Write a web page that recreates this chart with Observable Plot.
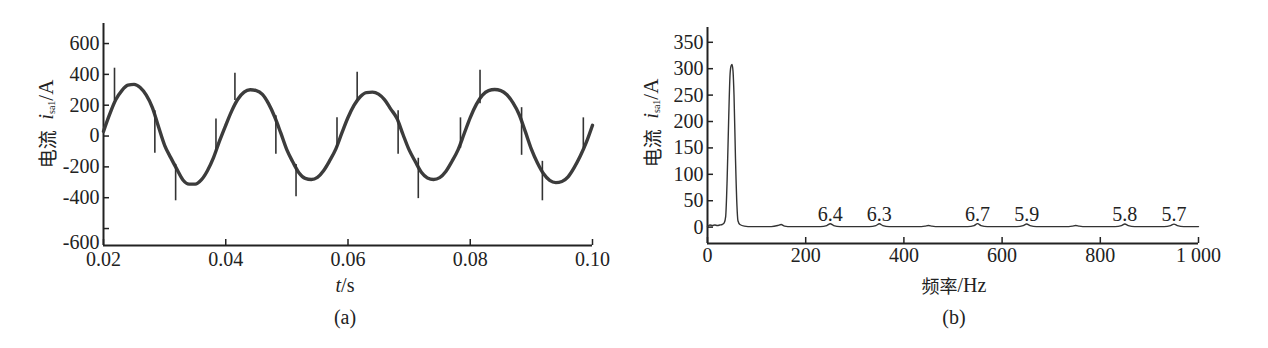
<!DOCTYPE html>
<html><head><meta charset="utf-8">
<script src="https://cdn.jsdelivr.net/npm/d3@7"></script>
<script src="https://cdn.jsdelivr.net/npm/@observablehq/plot@0.6"></script>
<style>
html,body{margin:0;padding:0;background:#fff;}
#fig{position:relative;width:1268px;height:348px;overflow:hidden;background:#fff;}
#fig svg{position:absolute;top:0;}
</style></head><body><div id="fig"></div>
<script>
// ---- (a) time-domain current ----
const timeS = [0.020,0.021,0.022,0.023,0.024,0.025,0.026,0.027,0.028,0.029,
  0.030,0.031,0.032,0.033,0.034,0.035,0.036,0.037,0.038,0.039,
  0.040,0.041,0.042,0.043,0.044,0.045,0.046,0.047,0.048,0.049,
  0.050,0.051,0.052,0.053,0.054,0.055,0.056,0.057,0.058,0.059,
  0.060,0.061,0.062,0.063,0.064,0.065,0.066,0.067,0.068,0.069,
  0.070,0.071,0.072,0.073,0.074,0.075,0.076,0.077,0.078,0.079,
  0.080,0.081,0.082,0.083,0.084,0.085,0.086,0.087,0.088,0.089,
  0.090,0.091,0.092,0.093,0.094,0.095,0.096,0.097,0.098,0.099,0.100];
const currentA = [30,140,235,295,330,335,315,265,185,60,
  -60,-140,-215,-285,-312,-312,-285,-225,-140,-30,
  70,165,240,285,300,295,270,210,125,20,
  -90,-170,-240,-275,-282,-268,-225,-160,-85,20,
  120,200,255,282,285,272,235,175,115,10,
  -90,-165,-235,-272,-282,-270,-230,-165,-90,15,
  120,205,265,295,302,295,268,215,140,30,
  -85,-175,-245,-288,-302,-295,-265,-205,-130,-40,70];
const spikeT    = [0.0218,0.0284,0.0318,0.0384,0.0415,0.0482,0.0515,0.0582,0.0615,0.0682,0.0715,0.0784,0.0816,0.0884,0.0918,0.0985];
const spikeFrom = [230,164,-184,-111,230,131,-184,-79,230,164,-144,-79,210,184,-164,-79];
const spikeTo   = [440,-111,-420,111,407,-118,-393,118,413,-118,-406,118,426,-125,-420,118];
const tTicks = [0.02,0.04,0.06,0.08,0.10];
const tTickLabels = ["0.02","0.04","0.06","0.08","0.10"];
const iTicks = [-600,-400,-200,0,200,400,600];
const iTickLabels = ["-600","-400","-200","0","200","400","600"];
const tDomain = [0.02,0.10];
const iDomain = [-710,730];

// ---- (b) spectrum ----
const freqHz = [0,5,10,15,20,25,30,34,37,40,43,46,48,50,52,54,57,60,62,66,75,90,110,130,
  143,150,157,170,200,230,243,250,257,270,300,330,343,350,357,370,400,430,443,450,457,470,
  500,530,543,550,557,570,600,630,643,650,657,670,700,730,743,750,757,770,800,830,843,850,857,870,
  900,930,943,950,957,970,1000];
const ampA = [1,4,3,4,3,4,5,8,20,90,200,290,305,308,295,250,130,40,12,5,2,1,1,1,
  3,5,2,1,1,1,3,6.4,3,1,1,1,3,6.3,3,1,1,1,2,3,2,1,
  1,1,3,6.7,3,1,1,1,3,5.9,3,1,1,1,2,3,2,1,1,1,3,5.8,3,1,
  1,1,3,5.7,3,1,1];
const harmHz = [250,350,550,650,850,950];
const harmA = [6.4,6.3,6.7,5.9,5.8,5.7];
const harmLabel = ["6.4","6.3","6.7","5.9","5.8","5.7"];
const fTicks = [0,200,400,600,800,1000];
const fTickLabels = ["0","200","400","600","800","1 000"];
const aTicks = [0,50,100,150,200,250,300,350];
const aTickLabels = ["0","50","100","150","200","250","300","350"];
const fDomain = [0,1000];
const aDomain = [-31,378];

const SERIF = "'Liberation Serif','Times New Roman',serif";
const CJK = "'Noto Sans CJK SC',sans-serif";
const INK = "#222";

const wave = timeS.map((t,i)=>({t, v: currentA[i]}));
const spikes = spikeT.map((t,i)=>({t, a: spikeFrom[i], b: spikeTo[i]}));
const spec = freqHz.map((f,i)=>({f, a: ampA[i]}));
const harm = harmHz.map((f,i)=>({f, a: harmA[i], s: harmLabel[i]}));

const lookup = (ticks, labels) => d => labels[ticks.indexOf(d)] ?? "";

const left = Plot.plot({
  width: 620, height: 348,
  marginLeft: 103, marginRight: 28, marginTop: 23, marginBottom: 103,
  x: {domain: tDomain},
  y: {domain: iDomain},
  style: {fontFamily: SERIF, fontSize: "20px", color: INK, background: "transparent", overflow: "visible"},
  marks: [
    Plot.axisX(tTicks, {tickSize: -6, tickPadding: 12, strokeWidth: 1.5, tickFormat: lookup(tTicks, tTickLabels), label: null}),
    Plot.axisY(iTicks, {tickSize: -6, tickPadding: 10, strokeWidth: 1.5, tickFormat: d => d === iTicks[0] ? "" : lookup(iTicks, iTickLabels)(d), label: null}),
    Plot.text([iDomain[0]], {y: d => d, text: () => iTickLabels[0], frameAnchor: "left", textAnchor: "end", dx: -4, dy: -3, fill: INK}),
    Plot.ruleX([tDomain[0]], {stroke: INK, strokeWidth: 2}),
    Plot.ruleY([iDomain[0]], {stroke: INK, strokeWidth: 2}),
    Plot.line(wave, {x: "t", y: "v", stroke: "#3c3c3c", strokeWidth: 3.4, curve: "monotone-x"}),
    Plot.ruleX(spikes, {x: "t", y1: "a", y2: "b", stroke: "#333", strokeWidth: 1.6})
  ]
});

const right = Plot.plot({
  width: 648, height: 348,
  marginLeft: 87, marginRight: 70, marginTop: 27, marginBottom: 105,
  x: {domain: fDomain},
  y: {domain: aDomain},
  style: {fontFamily: SERIF, fontSize: "20px", color: INK, background: "transparent", overflow: "visible"},
  marks: [
    Plot.axisX(fTicks, {tickSize: -6, tickPadding: 10, strokeWidth: 1.5, tickFormat: lookup(fTicks, fTickLabels), label: null}),
    Plot.axisY(aTicks, {tickSize: -6, tickPadding: 10, strokeWidth: 1.5, tickFormat: lookup(aTicks, aTickLabels), label: null}),
    Plot.ruleX([fDomain[0]], {stroke: INK, strokeWidth: 2}),
    Plot.ruleY([aDomain[0]], {stroke: INK, strokeWidth: 2}),
    Plot.line(spec, {x: "f", y: "a", stroke: "#333", strokeWidth: 1.4, curve: "monotone-x"}),
    Plot.text(harm, {x: "f", y: "a", text: "s", lineAnchor: "bottom", dy: -3, fill: INK})
  ]
});

const fig = document.getElementById("fig");
left.style.left = "0px";
right.style.left = "620px";
fig.appendChild(left);
fig.appendChild(right);

function yLabel(svg, x, y) {
  const t = d3.select(svg).append("text")
    .attr("transform", `translate(${x},${y}) rotate(-90)`)
    .attr("text-anchor", "middle").attr("dominant-baseline", "central")
    .attr("fill", INK).style("font-family", SERIF).style("font-size", "21px");
  t.append("tspan").style("font-family", CJK).style("font-size", "19px").text("电流");
  t.append("tspan").text("\u2002");
  t.append("tspan").style("font-style", "italic").text("i");
  t.append("tspan").attr("dy", 5).style("font-size", "10px").text("sa1");
  t.append("tspan").attr("dy", -5).text("/A");
}
function xTitle(svg, x, y, parts) {
  const t = d3.select(svg).append("text")
    .attr("x", x).attr("y", y)
    .attr("text-anchor", "middle").attr("dominant-baseline", "central")
    .attr("fill", INK).style("font-family", SERIF).style("font-size", "20px");
  for (const [txt, st] of parts) {
    const s = t.append("tspan").text(txt);
    if (st === "i") s.style("font-style", "italic");
    if (st === "c") s.style("font-family", CJK).style("font-size", "18px");
  }
}
yLabel(left, 46, 124);
xTitle(left, 345, 285, [["t","i"],["/s",""]]);
xTitle(left, 345, 317, [["(a)",""]]);
yLabel(right, 31, 123);
xTitle(right, 334, 285, [["频率","c"],["/Hz",""]]);
xTitle(right, 334, 317, [["(b)",""]]);
</script>
</body></html>
